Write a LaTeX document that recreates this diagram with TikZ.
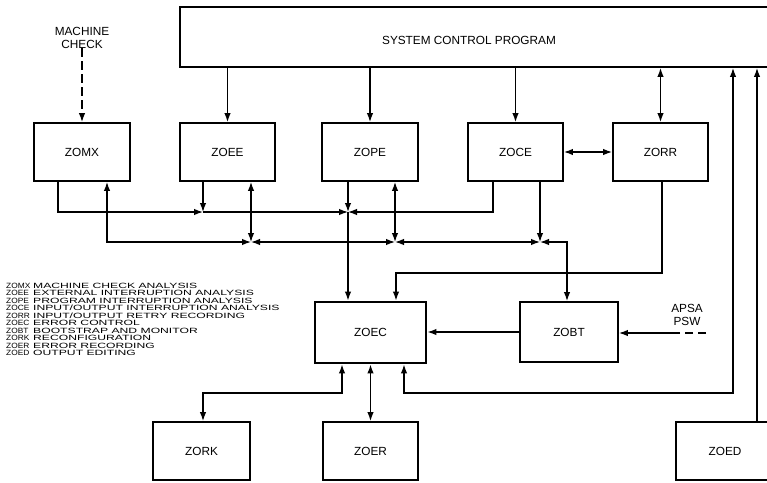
\documentclass[tikz,border=0pt]{standalone}
\usepackage{fontspec}
\setmainfont{Liberation Sans}
\newfontfamily\codefont[FakeStretch=1.1]{Liberation Sans}
\newfontfamily\descfont[FakeStretch=1.6]{Liberation Sans}
\newcommand{\legrow}[2]{\makebox[27pt][l]{\codefont #1}{\descfont #2}}
\usetikzlibrary{arrows.meta}
\begin{document}
\begin{tikzpicture}[x=1pt,y=-1pt,
  box/.style={draw, line width=1.9pt, inner sep=0pt, font=\fontsize{11.8}{13}\selectfont},
  lab/.style={inner sep=0pt, align=center, font=\fontsize{11.8}{13}\selectfont},
  conn/.style={line width=1.3pt},
  arr/.style={conn, -{Latex[length=9pt,width=6.5pt]}},
  darr/.style={conn, {Latex[length=9pt,width=6.5pt]}-{Latex[length=9pt,width=6.5pt]}},
  legendstyle/.style={inner sep=0pt, anchor=north west, align=left,
    font={\fontsize{7.6}{7.55}\selectfont\lineskiplimit=-20pt\lineskip=0pt}}]
\useasboundingbox (0,0) rectangle (767,482);
\fill[white] (0,0) rectangle (767,482);
\clip (0,0) rectangle (767,482);

% boxes
\node[box, minimum width=600pt, minimum height=60pt] (scp) at (480,37) {};
\node[lab] (scplabel) at (469,40) {SYSTEM CONTROL PROGRAM};
\node[box, minimum width=96pt, minimum height=58pt] (zomx) at (82,152) {ZOMX};
\node[box, minimum width=95pt, minimum height=58pt] (zoee) at (227.5,152) {ZOEE};
\node[box, minimum width=96pt, minimum height=58pt] (zope) at (370,152) {ZOPE};
\node[box, minimum width=95pt, minimum height=58pt] (zoce) at (515.5,152) {ZOCE};
\node[box, minimum width=95pt, minimum height=58pt] (zorr) at (660.5,152) {ZORR};
\node[box, line width=2.9pt, minimum width=111pt, minimum height=61pt] (zoec) at (370.5,332.5) {ZOEC};
\node[box, minimum width=98pt, minimum height=60pt] (zobt) at (569,332) {ZOBT};
\node[box, minimum width=97pt, minimum height=58pt] (zork) at (201.5,451) {ZORK};
\node[box, minimum width=95pt, minimum height=58pt] (zoer) at (370.5,451) {ZOER};
\node[box, minimum width=98pt, minimum height=58pt] (zoed) at (725,451) {ZOED};

% outside labels
\node[lab] (mc) at (82,37.5) {MACHINE\\CHECK};
\node[lab] (apsa) at (687,314.5) {APSA\\PSW};

% coordinates
\coordinate (k1) at (58,212);
\coordinate (b1a) at (203,212);
\coordinate (b1b) at (348,212);
\coordinate (k2) at (493,212);
\coordinate (k3) at (107,242);
\coordinate (b2a) at (251,242);
\coordinate (b2b) at (395,242);
\coordinate (b2c) at (540,242);
\coordinate (k4) at (567,242);
\coordinate (k5) at (662,273);
\coordinate (k6) at (396,273);
\coordinate (k7) at (342,393);
\coordinate (k8) at (203,393);
\coordinate (k9) at (404,393);
\coordinate (k10) at (733,393);
\coordinate (e1) at (757,422);
\coordinate (ap1) at (706,333);
\coordinate (ap2) at (679,333);

% top connectors
\draw[arr, dash pattern=on 9pt off 4pt] (mc.south) -- (zomx.north);
\draw[arr] (scp.south -| zoee.north) -- (zoee.north);
\draw[arr] (scp.south -| zope.north) -- (zope.north);
\draw[arr] (scp.south -| zoce.north) -- (zoce.north);
\draw[darr] (scp.south -| zorr.north) -- (zorr.north);
\draw[darr] (zoce.east) -- (zorr.west);

% bus 1
\draw[arr] (zomx.south -| k1) -- (k1) -- (b1a);
\draw[arr] (zoee.south -| b1a) -- (b1a);
\draw[arr] (b1a) -- (b1b);
\draw[arr] (zope.south -| b1b) -- (b1b);
\draw[arr] (zoce.south -| k2) -- (k2) -- (b1b);
\draw[arr] (b1b) -- (zoec.north -| b1b);

% bus 2
\draw[darr] (zomx.south -| k3) -- (k3) -- (b2a);
\draw[darr] (zoee.south -| b2a) -- (b2a);
\draw[darr] (b2a) -- (b2b);
\draw[darr] (zope.south -| b2b) -- (b2b);
\draw[darr] (b2b) -- (b2c);
\draw[arr] (zoce.south -| b2c) -- (b2c);
\draw[darr] (b2c) -- (k4) -- (zobt.north -| k4);

% ZORR to ZOEC
\draw[arr] (zorr.south -| k5) -- (k5) -- (k6) -- (zoec.north -| k6);

% ZOBT
\draw[arr] (zobt.west) -- (zoec.east |- zobt.west);
\draw[conn, dash pattern=on 8pt off 5pt] (ap1) -- (ap2);
\draw[arr] (ap2) -- (zobt.east |- ap2);

% bottom
\draw[darr] (zoec.south -| k7) -- (k7) -- (k8) -- (zork.north -| k8);
\draw[darr] (zoec.south -| zoer.north) -- (zoer.north);
\draw[darr] (zoec.south -| k9) -- (k9) -- (k10) -- (scp.south -| k10);
\draw[arr] (e1) -- (scp.south -| e1);

% legend
\node[legendstyle] (legend) at (6,282.5) {%
\legrow{ZOMX}{MACHINE CHECK ANALYSIS}\\
\legrow{ZOEE}{EXTERNAL INTERRUPTION ANALYSIS}\\
\legrow{ZOPE}{PROGRAM INTERRUPTION ANALYSIS}\\
\legrow{ZOCE}{INPUT/OUTPUT INTERRUPTION ANALYSIS}\\
\legrow{ZORR}{INPUT/OUTPUT RETRY RECORDING}\\
\legrow{ZOEC}{ERROR CONTROL}\\
\legrow{ZOBT}{BOOTSTRAP AND MONITOR}\\
\legrow{ZORK}{RECONFIGURATION}\\
\legrow{ZOER}{ERROR RECORDING}\\
\legrow{ZOED}{OUTPUT EDITING}};
\end{tikzpicture}
\end{document}
